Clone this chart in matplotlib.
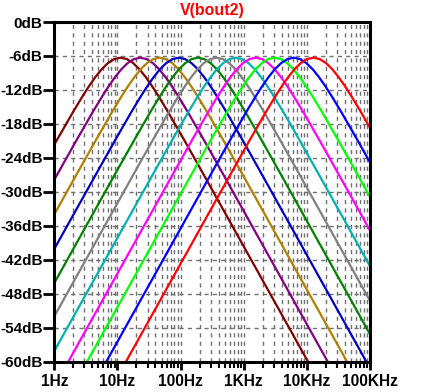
import numpy as np
import matplotlib
matplotlib.use("Agg")
import matplotlib.pyplot as plt
from matplotlib.ticker import FixedLocator, NullFormatter

# ---- data ----
# centre frequencies (Hz) of the 11 band-pass curves, left to right
center_freqs = [11.2, 23.0, 46.5, 94.0, 188.0, 370.0, 750.0, 1550.0, 3070.0, 6200.0, 12700.0]
peak_db = -6.3
curve_colors = ["#800000", "#800080", "#B08000", "#0000C0", "#008000", "#808080",
                "#00B0B0", "#FF00FF", "#00FF00", "#0000FF", "#FF0000"]
# common curve shape: offset from centre (decades) vs level below peak (dB)
shape_offsets = [0.0, 0.1, 0.2, 0.3, 0.4, 0.5, 0.6, 0.75, 1.0, 1.25, 1.5, 2.0, 2.5, 3.0, 3.5, 4.0, 4.5]
shape_db = [0.0, -0.25, -0.96, -2.05, -3.44, -5.04, -6.78, -9.55, -14.39, -19.34,
            -24.33, -34.32, -44.32, -54.32, -64.32, -74.32, -84.32]
title_text = "V(bout2)"
x_ticks = [1, 10, 100, 1e3, 1e4, 1e5]
x_labels = ["1Hz", "10Hz", "100Hz", "1KHz", "10KHz", "100KHz"]
y_ticks = [0, -6, -12, -18, -24, -30, -36, -42, -48, -54, -60]
y_labels = ["%ddB" % v for v in y_ticks]

plt.rcParams['font.family'] = ['Liberation Sans', 'DejaVu Sans']
plt.rcParams['font.weight'] = 'bold'

fig = plt.figure(figsize=(4.45, 3.92), dpi=100)
ax = fig.add_axes([54.3/445, 1-361.7/392, (370-54.3)/445, (361.7-22)/392])

off = np.array(shape_offsets)
sdb = np.array(shape_db)
full_off = np.concatenate([-off[::-1], off[1:]])
full_db = np.concatenate([sdb[::-1], sdb[1:]])

for fc, col in zip(center_freqs, curve_colors):
    f = fc * 10 ** full_off
    ax.plot(f, peak_db + full_db, color=col, lw=1.6, zorder=3, solid_joinstyle='miter')

ax.set_xscale('log')
ax.set_xlim(1, 1e5)
ax.set_ylim(-60, 0)
ax.set_xticks(x_ticks)
ax.set_xticklabels(x_labels)
minors = [m * 10 ** e for e in range(0, 5) for m in range(2, 10)]
ax.xaxis.set_minor_locator(FixedLocator(minors))
ax.xaxis.set_minor_formatter(NullFormatter())
ax.set_yticks(y_ticks)
ax.set_yticklabels(y_labels)

grid_kw = dict(color='#707070', lw=1.0, linestyle=(0, (3, 3)))
ax.grid(True, which='major', axis='both', **grid_kw)
ax.grid(True, which='minor', axis='x', **grid_kw)
ax.set_axisbelow(True)

for s in ax.spines.values():
    s.set_linewidth(2.2)
    s.set_color('black')
    s.set_zorder(5)

ax.tick_params(axis='y', which='major', direction='out', length=8, width=2, pad=0.5,
               labelsize=11, colors='black')
ax.tick_params(axis='x', which='major', direction='out', length=6, width=2, pad=3,
               labelsize=11.2, colors='black')
ax.tick_params(axis='x', which='minor', direction='out', length=4, width=1.5)
for lab in ax.get_xticklabels() + ax.get_yticklabels():
    lab.set_fontweight('bold')

ax.set_title(title_text, color='#FF0000', fontsize=11.5, fontweight='bold', pad=5)

fig.savefig("out.png", dpi=100)
